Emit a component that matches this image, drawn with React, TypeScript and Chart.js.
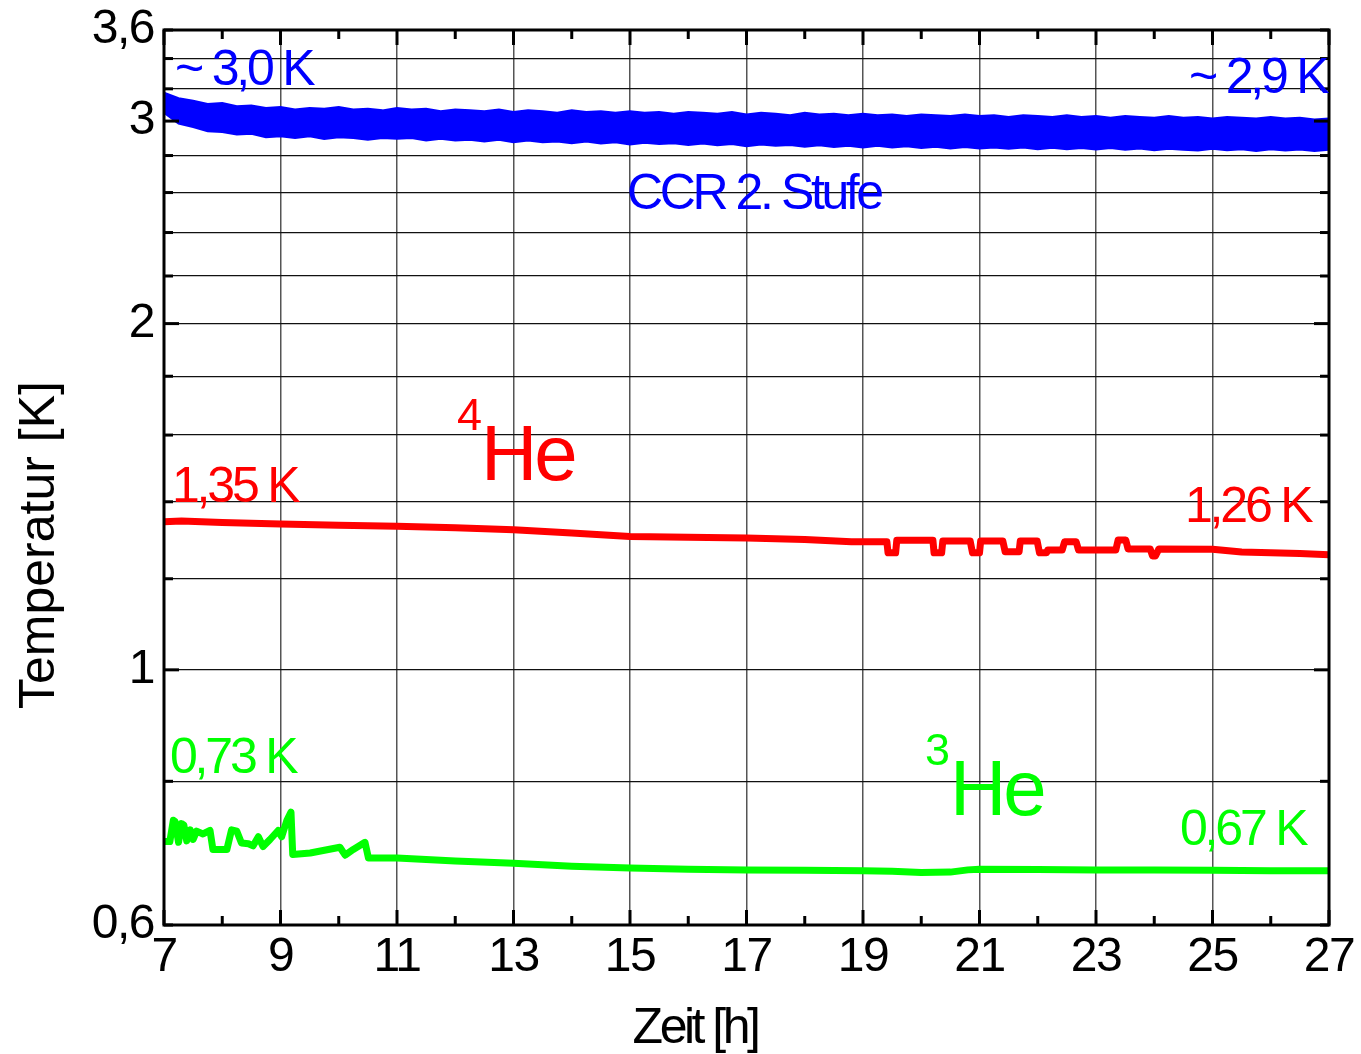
import React, { useEffect, useRef } from 'react';
import { Chart, registerables } from 'chart.js';

Chart.register(...registerables);

// ---- axis ticks ----
const xTickHours = [7, 8, 9, 10, 11, 12, 13, 14, 15, 16, 17, 18, 19, 20, 21, 22, 23, 24, 25, 26, 27];
const xLabelHours = [7, 9, 11, 13, 15, 17, 19, 21, 23, 25, 27];
const yGridValues = [0.6, 0.8, 1, 1.2, 1.4, 1.6, 1.8, 2, 2.2, 2.4, 2.6, 2.8, 3, 3.2, 3.4, 3.6];
const yMajorValues = [1, 2, 3];
const yLabelValues = [0.6, 1, 2, 3, 3.6];
const yLabelTexts = ['0,6', '1', '2', '3', '3,6'];

// ---- series: [hour, temperature K] ----
// CCR 2nd stage: upper and lower envelope of the noisy band
const ccrUpper: [number, number][] = [
  [7, 3.175], [7.25, 3.14], [7.5, 3.125], [7.75, 3.105], [8, 3.11], [8.25, 3.09], [8.5, 3.095], [8.75, 3.08],
  [9, 3.085], [9.25, 3.07], [9.5, 3.08], [9.75, 3.075], [10, 3.085], [10.25, 3.07], [10.5, 3.075], [10.75, 3.065],
  [11, 3.08], [11.25, 3.07], [11.5, 3.075], [11.75, 3.06], [12, 3.07], [12.25, 3.065], [12.5, 3.06], [12.75, 3.07],
  [13, 3.055], [13.25, 3.065], [13.5, 3.06], [13.75, 3.05], [14, 3.065], [14.25, 3.055], [14.5, 3.06], [14.75, 3.05],
  [15, 3.06], [15.25, 3.05], [15.5, 3.055], [15.75, 3.045], [16, 3.055], [16.25, 3.05], [16.5, 3.045], [16.75, 3.055],
  [17, 3.04], [17.25, 3.05], [17.5, 3.045], [17.75, 3.035], [18, 3.05], [18.25, 3.04], [18.5, 3.045], [18.75, 3.035],
  [19, 3.045], [19.25, 3.035], [19.5, 3.04], [19.75, 3.03], [20, 3.04], [20.25, 3.035], [20.5, 3.03], [20.75, 3.04],
  [21, 3.03], [21.25, 3.035], [21.5, 3.025], [21.75, 3.035], [22, 3.03], [22.25, 3.025], [22.5, 3.035], [22.75, 3.025],
  [23, 3.03], [23.25, 3.02], [23.5, 3.03], [23.75, 3.025], [24, 3.02], [24.25, 3.03], [24.5, 3.02], [24.75, 3.025],
  [25, 3.015], [25.25, 3.025], [25.5, 3.02], [25.75, 3.015], [26, 3.025], [26.25, 3.015], [26.5, 3.02], [26.75, 3.01],
  [27, 3.015],
];
const ccrLower: [number, number][] = [
  [7, 3.05], [7.25, 2.985], [7.5, 2.965], [7.75, 2.94], [8, 2.935], [8.25, 2.92], [8.5, 2.925], [8.75, 2.905],
  [9, 2.91], [9.25, 2.9], [9.5, 2.91], [9.75, 2.895], [10, 2.905], [10.25, 2.9], [10.5, 2.89], [10.75, 2.9],
  [11, 2.895], [11.25, 2.9], [11.5, 2.885], [11.75, 2.895], [12, 2.885], [12.25, 2.89], [12.5, 2.88], [12.75, 2.89],
  [13, 2.875], [13.25, 2.885], [13.5, 2.875], [13.75, 2.88], [14, 2.87], [14.25, 2.88], [14.5, 2.868], [14.75, 2.875],
  [15, 2.862], [15.25, 2.872], [15.5, 2.865], [15.75, 2.87], [16, 2.86], [16.25, 2.868], [16.5, 2.858], [16.75, 2.865],
  [17, 2.852], [17.25, 2.862], [17.5, 2.855], [17.75, 2.86], [18, 2.85], [18.25, 2.858], [18.5, 2.848], [18.75, 2.855],
  [19, 2.846], [19.25, 2.855], [19.5, 2.845], [19.75, 2.852], [20, 2.842], [20.25, 2.85], [20.5, 2.84], [20.75, 2.848],
  [21, 2.84], [21.25, 2.846], [21.5, 2.838], [21.75, 2.845], [22, 2.836], [22.25, 2.844], [22.5, 2.835], [22.75, 2.842],
  [23, 2.834], [23.25, 2.842], [23.5, 2.832], [23.75, 2.84], [24, 2.83], [24.25, 2.838], [24.5, 2.832], [24.75, 2.828],
  [25, 2.838], [25.25, 2.83], [25.5, 2.836], [25.75, 2.826], [26, 2.835], [26.25, 2.828], [26.5, 2.834], [26.75, 2.825],
  [27, 2.832],
];
const he4: [number, number][] = [
  [7, 1.345], [7.3, 1.347], [8, 1.343], [9, 1.339], [10, 1.336], [11, 1.333], [12, 1.329], [13, 1.324],
  [14, 1.315], [15, 1.306], [16, 1.304], [17, 1.302], [18, 1.298], [18.8, 1.292], [19.41, 1.292], [19.43, 1.264],
  [19.56, 1.264], [19.58, 1.296], [20.2, 1.296], [20.22, 1.264], [20.35, 1.264], [20.37, 1.294], [20.84, 1.294],
  [20.88, 1.264], [21.0, 1.264], [21.02, 1.294], [21.4, 1.294], [21.44, 1.267], [21.68, 1.267], [21.7, 1.294],
  [21.99, 1.294], [22.03, 1.264], [22.15, 1.264], [22.17, 1.271], [22.42, 1.271], [22.46, 1.292], [22.66, 1.292],
  [22.7, 1.271], [23.34, 1.271], [23.38, 1.297], [23.51, 1.297], [23.55, 1.274], [23.93, 1.274], [23.97, 1.256],
  [24.02, 1.256], [24.08, 1.274], [25.0, 1.273], [25.5, 1.266], [26, 1.264], [26.5, 1.262], [27, 1.259],
];
const he3: [number, number][] = [
  [7, 0.709], [7.1, 0.709], [7.16, 0.74], [7.19, 0.738], [7.25, 0.708], [7.3, 0.735], [7.34, 0.733], [7.39, 0.71],
  [7.45, 0.726], [7.5, 0.712], [7.56, 0.724], [7.67, 0.72], [7.79, 0.725], [7.84, 0.698], [8.08, 0.698], [8.16, 0.726],
  [8.25, 0.724], [8.33, 0.707], [8.45, 0.706], [8.53, 0.703], [8.62, 0.716], [8.7, 0.702], [8.82, 0.712], [8.96, 0.725],
  [9.02, 0.716], [9.11, 0.74], [9.18, 0.752], [9.21, 0.691], [9.51, 0.693], [10.02, 0.701], [10.11, 0.69], [10.25, 0.698],
  [10.45, 0.708], [10.51, 0.686], [11, 0.686], [12, 0.682], [13, 0.679], [14, 0.675], [15, 0.6725], [16, 0.671],
  [17, 0.67], [18, 0.6695], [19, 0.669], [19.5, 0.668], [20, 0.6665], [20.5, 0.667], [20.8, 0.67], [21, 0.671],
  [22, 0.6705], [23, 0.67], [24, 0.67], [25, 0.6695], [26, 0.669], [27, 0.669],
];

const FONT = '"Liberation Sans", Arial, Helvetica, sans-serif';
const BLUE = '#0000ff';
const RED = '#ff0000';
const GREEN = '#00ff00';

const near = (a: number, b: number) => Math.abs(a - b) < 1e-6;

function drawText(ctx: CanvasRenderingContext2D, s: string, x: number, y: number, size: number, color: string, spacing: number, align: CanvasTextAlign = 'left') {
  ctx.font = `${size}px ${FONT}`;
  (ctx as any).letterSpacing = `${spacing}px`;
  ctx.fillStyle = color;
  ctx.textAlign = align;
  ctx.textBaseline = 'alphabetic';
  ctx.fillText(s, x, y);
}

const framePlugin = {
  id: 'framePlugin',
  beforeDraw(chart: any) {
    (chart.ctx as any).letterSpacing = '-1.5px';
  },
  afterDraw(chart: any) {
    const { ctx, chartArea: a, scales } = chart;
    const xs = scales.x;
    const ys = scales.y;
    ctx.save();
    ctx.strokeStyle = '#000';
    ctx.lineCap = 'butt';
    const seg = (x1: number, y1: number, x2: number, y2: number, w: number) => {
      ctx.lineWidth = w;
      ctx.beginPath();
      ctx.moveTo(x1, y1);
      ctx.lineTo(x2, y2);
      ctx.stroke();
    };
    xTickHours.forEach((h) => {
      const px = xs.getPixelForValue(h);
      const major = xLabelHours.includes(h);
      const len = major ? 15 : 9;
      seg(px, a.bottom, px, a.bottom - len, 3);
      seg(px, a.top, px, a.top + len, 3);
    });
    yGridValues.forEach((v) => {
      const py = ys.getPixelForValue(v);
      const major = yMajorValues.some((m) => near(m, v));
      const len = major ? 15 : 9;
      seg(a.left, py, a.left + len, py, 3);
      seg(a.right, py, a.right - len, py, 3);
    });
    ctx.lineWidth = 3;
    ctx.strokeRect(a.left, a.top, a.right - a.left, a.bottom - a.top);

    // annotations
    drawText(ctx, '~ 3,0 K', 175, 85, 50, BLUE, -3.2);
    drawText(ctx, '~ 2,9 K', 1189, 93, 50, BLUE, -3.2);
    drawText(ctx, 'CCR 2. Stufe', 627, 209, 50, BLUE, -3.4);
    drawText(ctx, '4', 457, 430, 45, RED, -2);
    drawText(ctx, 'He', 481, 480, 78, RED, -3);
    drawText(ctx, '1,35 K', 172, 502, 50, RED, -3.2);
    drawText(ctx, '1,26 K', 1185, 522, 50, RED, -3.2);
    drawText(ctx, '0,73 K', 170, 773, 50, GREEN, -3.2);
    drawText(ctx, '3', 925, 765, 45, GREEN, -2);
    drawText(ctx, 'He', 950, 815, 78, GREEN, -3);
    drawText(ctx, '0,67 K', 1180, 845, 50, GREEN, -3.2);

    // axis titles
    drawText(ctx, 'Zeit [h]', 695, 1043, 50, '#000', -3.5, 'center');
    ctx.save();
    ctx.translate(54, 545);
    ctx.rotate(-Math.PI / 2);
    drawText(ctx, 'Temperatur [K]', 0, 0, 50, '#000', 0, 'center');
    ctx.restore();
    ctx.restore();
  },
};

const toPts = (arr: [number, number][]) => arr.map(([x, y]) => ({ x, y }));

export default function App() {
  const ref = useRef<HTMLCanvasElement | null>(null);
  useEffect(() => {
    document.body.style.margin = '0';
    if (!ref.current) return;
    const chart = new Chart(ref.current, {
      type: 'line',
      data: {
        datasets: [
          {
            data: toPts(ccrUpper), borderColor: BLUE, backgroundColor: BLUE, borderWidth: 2,
            fill: '+1', pointRadius: 0, tension: 0,
          },
          {
            data: toPts(ccrLower), borderColor: BLUE, backgroundColor: BLUE, borderWidth: 2,
            fill: false, pointRadius: 0, tension: 0,
          },
          {
            data: toPts(he4), borderColor: RED, borderWidth: 7, fill: false, pointRadius: 0, tension: 0,
            borderJoinStyle: 'round', borderCapStyle: 'round',
          },
          {
            data: toPts(he3), borderColor: GREEN, borderWidth: 7, fill: false, pointRadius: 0, tension: 0,
            borderJoinStyle: 'round', borderCapStyle: 'round',
          },
        ] as any,
      },
      options: {
        animation: false,
        responsive: false,
        devicePixelRatio: 1,
        layout: { padding: { top: 30, right: 32, left: 0, bottom: 0 } },
        plugins: { legend: { display: false }, tooltip: { enabled: false }, title: { display: false } },
        scales: {
          x: {
            type: 'linear',
            min: 7,
            max: 27,
            afterBuildTicks: (s: any) => { s.ticks = xTickHours.map((v) => ({ value: v })); },
            afterFit: (s: any) => { s.height = 129; s.paddingLeft = 0; s.paddingRight = 0; },
            ticks: {
              autoSkip: false,
              maxRotation: 0,
              padding: 4,
              color: '#000',
              font: { family: FONT, size: 48 },
              callback: (v: any) => (xLabelHours.includes(Number(v)) ? String(v) : ''),
            },
            grid: {
              drawTicks: false,
              lineWidth: 1.5,
              color: (c: any) => {
                const v = c.tick ? c.tick.value : undefined;
                return v !== undefined && xLabelHours.includes(v) && v !== 7 && v !== 27 ? '#555' : 'rgba(0,0,0,0)';
              },
            },
            border: { display: false },
          },
          y: {
            type: 'logarithmic',
            min: 0.6,
            max: 3.6,
            afterBuildTicks: (s: any) => { s.ticks = yGridValues.map((v) => ({ value: v })); },
            afterFit: (s: any) => { s.width = 164; s.paddingTop = 0; s.paddingBottom = 0; },
            ticks: {
              autoSkip: false,
              padding: 10,
              color: '#000',
              font: { family: FONT, size: 48 },
              callback: (v: any) => {
                const i = yLabelValues.findIndex((l) => near(l, Number(v)));
                return i >= 0 ? yLabelTexts[i] : '';
              },
            },
            grid: {
              drawTicks: false,
              lineWidth: 1.3,
              color: (c: any) => {
                const v = c.tick ? c.tick.value : undefined;
                return v !== undefined && !near(v, 0.6) && !near(v, 3.6) ? '#111' : 'rgba(0,0,0,0)';
              },
            },
            border: { display: false },
          },
        },
      } as any,
      plugins: [framePlugin as any],
    });
    return () => chart.destroy();
  }, []);
  return (
    <div style={{ width: 1361, height: 1054, background: '#fff' }}>
      <canvas ref={ref} width={1361} height={1054} style={{ display: 'block', width: 1361, height: 1054 }} />
    </div>
  );
}
